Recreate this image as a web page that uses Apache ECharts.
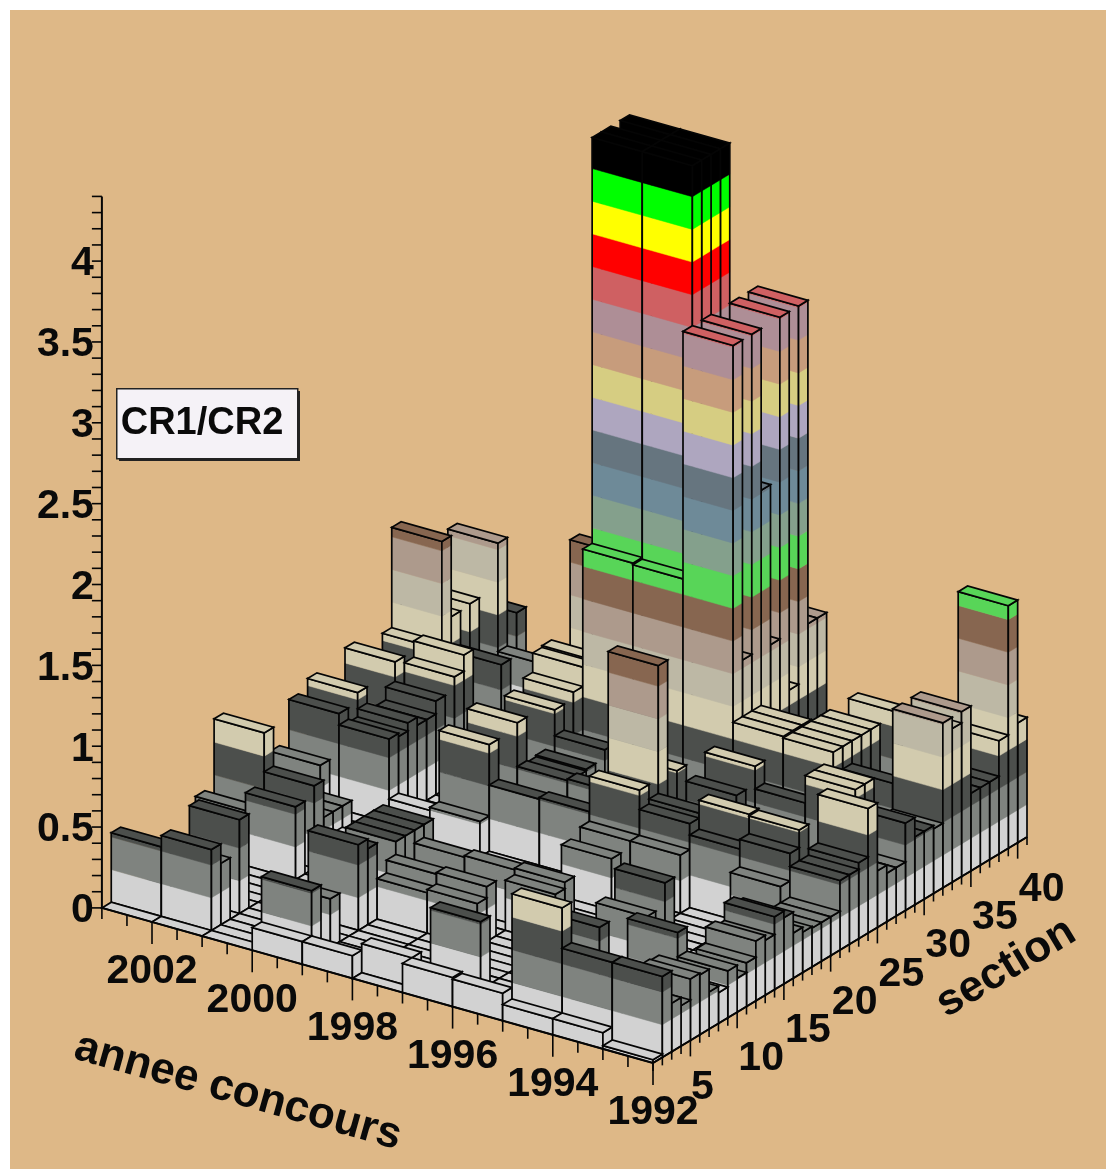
<!DOCTYPE html>
<html>
<head>
<meta charset="utf-8">
<style>
  html, body { margin: 0; padding: 0; background: #fff; }
  #chart { width: 1106px; height: 1169px; }
</style>
<script src="https://cdn.jsdelivr.net/npm/echarts@6/dist/echarts.min.js"></script>
</head>
<body>
<div id="chart"></div>
<script>
// CR1/CR2 values, one list per year, index 0 = section 1
const y1992 = [.02,.5,.3,.25,.38,.37,.23,.19,.29,.21,.27,.37,.34,.45,.41,.28,.25,.24,.24,.24,.43,.43,.47,.77,.35,.3,.3,.54,.42,.42,.4,1.02,.95,1.02,.48,.48,.48,.7,1.5,.74]
const y1993 = [.1,.5,0,0,0,0,0,0,.44,0,0,0,0,0,0,0,0,0,0,.34,.51,.62,0,0,0,0,0,.66,.66,0,0,.56,0,0,0,0,0,0,0,0]
const y1994 = [.1,.75,0,0,0,.49,0,0,0,0,.38,0,.52,0,0,0,0,0,0,0,.45,.63,0,0,0,0,0,.49,.42,0,.7,.7,.7,.7,.7,0,0,.7,0,0]
const y1995 = [.17,0,0,0,0,0,0,0,0,0,0,0,0,0,0,0,0,0,0,.36,.52,.55,0,0,0,.52,0,.63,0,0,.71,.71,.71,0,0,0,0,0,0,0]
const y1996 = [.18,0,0,.42,0,0,0,0,0,0,0,.31,.35,0,0,0,0,.32,0,.36,.64,0,1.34,0,.62,0,0,0,0,0,3.04,1.06,3.04,2.04,1.05,3.04,.7,3.04,1.04,1.04]
const y1997 = [0,.18,0,0,0,0,0,0,.27,.34,0,0,.34,0,0,0,0,0,0,0,.42,0,0,.43,0,0,0,0,0,0,1.51,4.03,4.03,4.03,4.03,0,0,0,0,0]
const y1998 = [.14,0,0,0,0,0,0,0,.25,.33,0,0,.33,0,0,0,0,0,0,0,.41,0,0,.42,.41,.42,0,.47,0,0,1.52,4.03,4.03,3.97,4.03,0,0,0,0,0]
const y1999 = [.14,.42,0,.3,0,0,.53,.47,0,0,.41,.41,.41,.41,0,0,0,0,0,.22,.66,0,0,.69,0,0,0,.63,0,.67,.79,.8,0,0,1.35,0,0,0,0,0]
const y2000 = [0,0,0,0,0,0,0,0,0,0,0,0,0,0,.15,0,0,0,0,0,.15,0,0,0,0,0,0,0,0,0,0,0,0,0,0,0,0,0,0,0]
const y2001 = [0,.5,.38,0,.58,0,0,0,0,0,.45,0,.51,.28,.28,.28,0,0,0,0,.52,.5,.55,.5,.5,.58,0,.66,.76,0,0,0,.56,0,0,0,0,.38,0,0]
const y2002 = [0,.43,0,0,0,0,0,0,0,0,.34,0,.75,0,0,0,0,0,.34,0,.59,0,.65,0,0,0,.7,0,0,0,.65,1.27,.77,0,.78,0,0,1.05,0,.55]

const years = [1992, 1993, 1994, 1995, 1996, 1997, 1998, 1999, 2000, 2001, 2002]
const rows = [y1992, y1993, y1994, y1995, y1996, y1997, y1998, y1999, y2000, y2001, y2002]

const levelStep = 0.202
const levelColors = ['#d2d2d2', '#7f837f', '#4c4f4c', '#d2cbae', '#bdb8a5', '#ad9a8c', '#876650', '#58d558', '#84a08c', '#6e8a98', '#66757f', '#aea6bf', '#d6cd82', '#c79c7c', '#ae8e96', '#cf6062', '#ff0000', '#ffff00', '#00ff00', '#000000']

const zTicks = [0, .1, .2, .3, .4, .5, .6, .7, .8, .9, 1, 1.1, 1.2, 1.3, 1.4, 1.5, 1.6, 1.7, 1.8, 1.9, 2, 2.1, 2.2, 2.3, 2.4, 2.5, 2.6, 2.7, 2.8, 2.9, 3, 3.1, 3.2, 3.3, 3.4, 3.5, 3.6, 3.7, 3.8, 3.9, 4, 4.1, 4.2, 4.3, 4.4]
const zLabels = ['0', '0.5', '1', '1.5', '2', '2.5', '3', '3.5', '4']
const yearLabels = ['1992', '1994', '1996', '1998', '2000', '2002']
const sectionLabels = ['5', '10', '15', '20', '25', '30', '35', '40']

const LINE = '#050505'
const FONT = 'bold 41px "Liberation Sans"'

// oblique view of the lego box
function project(year, section, z) {
  const dy = year - 1992
  const ds = section - 1
  return [653 - 50.1 * dy + 9.35 * ds, 1063 - 14.1 * dy - 5.65 * ds - 161.7 * z]
}

const cells = []
for (let r = rows.length - 1; r >= 0; r--) {
  for (let s = 39; s >= 0; s--) {
    cells.push([years[r], s + 1, rows[r][s]])
  }
}

function poly(points, fill, stroke, width) {
  return {
    type: 'polygon',
    shape: { points },
    style: { fill: fill || 'none', stroke: stroke || 'none', lineWidth: width || 0 },
    silent: true
  }
}

function renderCell(params, api) {
  const yr = api.value(0)
  const sec = api.value(1)
  const val = api.value(2)
  const pt = (a, b, z) => api.coord(project(a, b, z))
  const children = []
  if (val > 0) {
    // front wide face, then the narrow one
    const faces = [[yr + 1, sec, yr, sec], [yr, sec, yr, sec + 1]]
    faces.forEach(f => {
      for (let i = 0; i * levelStep < val; i++) {
        const z0 = i * levelStep
        const z1 = i === levelColors.length - 1 ? val : Math.min((i + 1) * levelStep, val)
        children.push(poly([pt(f[0], f[1], z0), pt(f[2], f[3], z0), pt(f[2], f[3], z1), pt(f[0], f[1], z1)], levelColors[i], levelColors[i], 0.5))
        if (i === levelColors.length - 1) break
      }
      children.push(poly([pt(f[0], f[1], 0), pt(f[2], f[3], 0), pt(f[2], f[3], val), pt(f[0], f[1], val)], null, LINE, 1.7))
    })
  }
  const lvl = Math.min(Math.floor(val / levelStep), levelColors.length - 1)
  children.push(poly([pt(yr, sec, val), pt(yr + 1, sec, val), pt(yr + 1, sec + 1, val), pt(yr, sec + 1, val)], levelColors[lvl], LINE, 1.7))
  return { type: 'group', children }
}

function tickLine(a, b, width) {
  return {
    type: 'line',
    shape: { x1: a[0], y1: a[1], x2: b[0], y2: b[1] },
    style: { stroke: LINE, lineWidth: width || 1.6 },
    silent: true
  }
}

function textAt(p, text, align) {
  return {
    type: 'text',
    x: p[0],
    y: p[1],
    style: { text, font: FONT, fill: '#0a0a0a', align: align || 'center', verticalAlign: 'middle' },
    silent: true
  }
}

function renderAxes(params, api) {
  const children = []
  const at = (a, b, z) => api.coord(project(a, b, z))

  // z axis on the left corner
  const zBase = at(2003, 1, 0)
  const zTop = at(2003, 1, 4.4)
  children.push(tickLine(zBase, zTop, 2))
  zTicks.forEach(t => {
    const p = at(2003, 1, t)
    children.push(tickLine(p, [p[0] - 10, p[1]]))
  })
  zLabels.forEach(l => {
    const p = at(2003, 1, Number(l))
    children.push(textAt([p[0] - 8, p[1] + 3], l, 'right'))
  })

  // year axis, front left edge
  children.push(tickLine(at(1992, 1, 0), at(2003, 1, 0), 2))
  for (let y = 1992; y <= 2003; y += 0.5) {
    const p = at(y, 1, 0)
    const major = y % 2 === 0 && y < 2003
    children.push(tickLine(p, [p[0], p[1] + (major ? 22 : 11)]))
  }
  yearLabels.forEach(l => {
    const p = at(Number(l), 1, 0)
    children.push(textAt([p[0], p[1] + 50], l))
  })

  // section axis, front right edge
  children.push(tickLine(at(1992, 1, 0), at(1992, 41, 0), 2))
  for (let s = 1; s <= 41; s++) {
    const p = at(1992, s, 0)
    children.push(tickLine(p, [p[0], p[1] + (s % 5 === 0 ? 16 : 8)]))
  }
  sectionLabels.forEach(l => {
    const p = at(1992, Number(l), 0)
    children.push(textAt([p[0] + l.length * 12, p[1] + 47], l))
  })
  return { type: 'group', children }
}

const chart = echarts.init(document.getElementById('chart'), null, { renderer: 'canvas' })
chart.setOption({
  animation: false,
  backgroundColor: '#ffffff',
  grid: { left: 10, top: 10, width: 1096, height: 1159, show: true, backgroundColor: '#deb887', borderWidth: 0 },
  xAxis: { type: 'value', min: 10, max: 1106, show: false },
  yAxis: { type: 'value', min: 10, max: 1169, inverse: true, show: false },
  series: [
    {
      type: 'custom',
      data: cells,
      renderItem: renderCell,
      clip: false,
      silent: true,
      encode: { x: 0, y: 1 }
    },
    {
      type: 'custom',
      data: [[0, 0]],
      renderItem: renderAxes,
      clip: false,
      silent: true,
      z: 3
    }
  ],
  graphic: [
    { type: 'rect', left: 119, top: 391, shape: { width: 181, height: 70 }, style: { fill: '#222' }, silent: true },
    { type: 'rect', left: 116, top: 388, shape: { width: 181, height: 70 }, style: { fill: '#f5f2f7', stroke: '#222', lineWidth: 1.5 }, silent: true },
    { type: 'text', x: 202, y: 424, style: { text: 'CR1/CR2', font: 'bold 38px "Liberation Sans"', fill: '#0a0a0a', align: 'center', verticalAlign: 'middle' }, silent: true },
    { type: 'text', x: 238, y: 1092, rotation: -0.274, style: { text: 'annee concours', font: 'bold 44px "Liberation Sans"', fill: '#0a0a0a', align: 'center', verticalAlign: 'middle' }, silent: true },
    { type: 'text', x: 1006, y: 968, rotation: 0.54, style: { text: 'section', font: 'bold 44px "Liberation Sans"', fill: '#0a0a0a', align: 'center', verticalAlign: 'middle' }, silent: true }
  ]
})
</script>
</body>
</html>
